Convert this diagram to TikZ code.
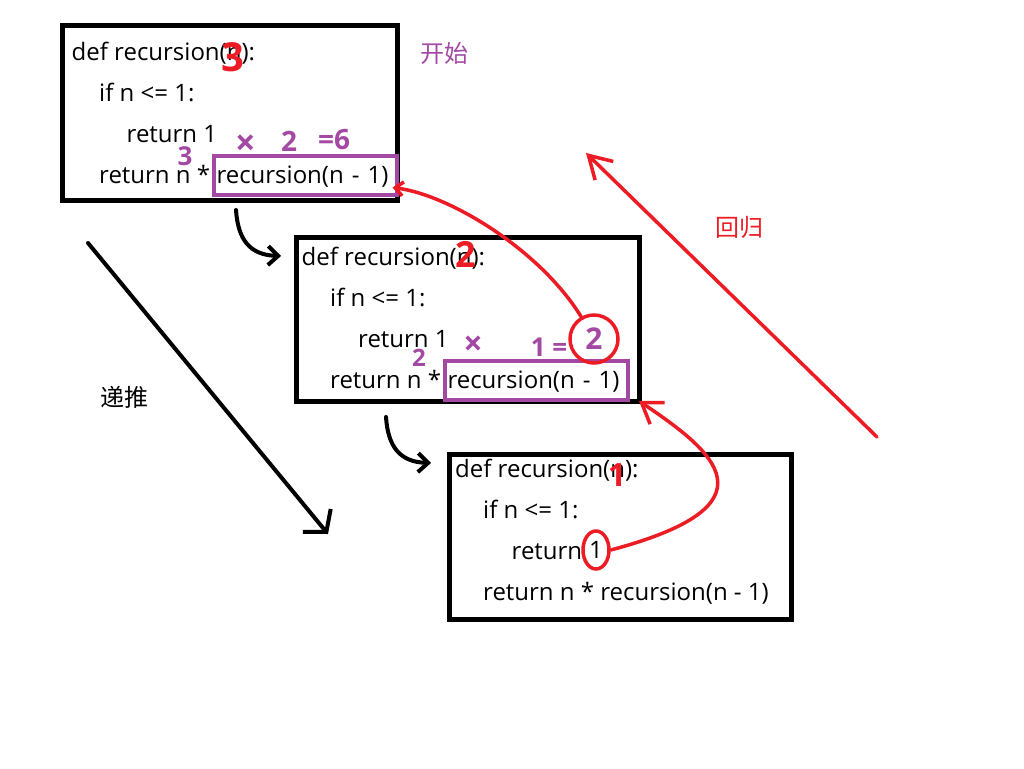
\documentclass[tikz,border=0pt]{standalone}
\usepackage{fontspec}
\setmainfont{Open Sans}
\newfontfamily\cjk{Noto Sans CJK SC}
\usetikzlibrary{arrows.meta,shapes.geometric}

\definecolor{paintred}{HTML}{ED1C24}
\definecolor{paintpurple}{HTML}{A349A4}

\newcommand{\codesize}{\fontsize{24}{28}\selectfont}

\tikzset{
    codebox/.style={draw, line width=5pt, inner sep=0pt, outer sep=0pt, anchor=north west},
    code/.style={anchor=base west, inner sep=0pt, font=\codesize},
    call/.style={draw=paintpurple, line width=4pt, anchor=base west, outer sep=0pt,
        inner xsep=3pt, inner ysep=6pt, text height=21pt, text depth=6pt,
        text width=177pt, align=left, font=\codesize},
    redmark/.style={text=paintred, inner sep=0pt, font=\bfseries\fontsize{#1}{#1}\selectfont},
    purplemark/.style={text=paintpurple, inner sep=0pt, font=\bfseries\fontsize{#1}{#1}\selectfont},
    hanzi/.style={inner sep=0pt, font=\cjk\fontsize{24}{24}\selectfont},
    pushline/.style={draw=black, line width=4pt, line cap=round},
    backline/.style={draw=paintred, line width=3.5pt, line cap=round}
    }

\begin{document}
\begin{tikzpicture}[x=1pt, y=-1pt]
    \useasboundingbox (0,0) rectangle (1024,768);
    % The boxes
    \node[codebox, minimum width=335pt, minimum height=174pt] (box1) at (62.5,26) {};
    \node[codebox, minimum width=343pt, minimum height=164pt] (box2) at (296,237) {};
    \node[codebox, minimum width=342pt, minimum height=165pt] (box3) at (449,454) {};

    % The code
    \node[code] (d1) at (71.5,60) {def recursion(n):};
    \node[code] (i1) at (99,101) {if n <= 1:};
    \node[code] (r1) at (126.5,142) {return 1};
    \node[code] (m1) at (99,183) {return n *};
    \node[call] (c1) at (213.5,183) {recursion(n - 1)};

    \node[code] (d2) at (301.5,265) {def recursion(n):};
    \node[code] (i2) at (330,306) {if n <= 1:};
    \node[code] (r2) at (358,347) {return 1};
    \node[code] (m2) at (330,388) {return n *};
    \node[call] (c2) at (444.5,388) {recursion(n - 1)};

    \node[code] (d3) at (455,477) {def recursion(n):};
    \node[code] (i3) at (483,518) {if n <= 1:};
    \node[code] (r3) at (511.5,559) {return};
    \node[code, ellipse, draw=paintred, line width=3.5pt, minimum width=26pt,
        minimum height=38pt, anchor=center] (one) at (596,550) {1};
    \node[code] (m3) at (483,600) {return n * recursion(n - 1)};

    % The values
    \node[redmark=40] (n1) at (233,57) {3};
    \node[redmark=36] (n2) at (466,254) {2};
    \node[redmark=32] (n3) at (617,475) {1};

    \node[purplemark=26] (f1) at (185,156) {3};
    \node[purplemark=36] (x1) at (246,145) {×};
    \node[purplemark=28] (t1) at (289,141) {2};
    \node[purplemark=28] (e1) at (334,140) {=6};
    \node[purplemark=24] (f2) at (419,358) {2};
    \node[purplemark=34] (x2) at (473,346) {×};
    \node[purplemark=26] (e2) at (549,347) {1 =};
    \node[purplemark=30, circle, draw=paintred, line width=3.5pt, minimum size=48pt] (two) at (594,339) {2};

    \node[hanzi, text=paintpurple] (start) at (444,53) {开始};
    \node[hanzi, text=paintred] (back) at (739,227) {回归};
    \node[hanzi] (push) at (124,397) {递推};

    % Going down
    \coordinate (down1) at (88,243);
    \coordinate (down2) at (328,534);
    \draw[pushline, -{Straight Barb[length=15pt,width=36pt]}] (down1) -- (down2);
    \coordinate (call1) at (236,210);
    \coordinate (call2) at (281,256);
    \draw[pushline, -{Straight Barb[length=10pt,width=19pt]}] (call1) .. controls (238,240) and (250,255) .. (call2);
    \coordinate (call3) at (386,417);
    \coordinate (call4) at (431,463);
    \draw[pushline, -{Straight Barb[length=10pt,width=19pt]}] (call3) .. controls (388,447) and (400,462) .. (call4);

    % Coming back
    \coordinate (up1) at (877,437);
    \coordinate (up2) at (586,153);
    \draw[backline, -{Straight Barb[length=22pt,width=26pt]}] (up1) -- (up2);
    \draw[backline, -{Straight Barb[length=8pt,width=14pt]}] (two.120) .. controls (540,250) and (450,195) .. ([shift={(-4,12)}]c1.east);
    \draw[backline, -{Straight Barb[length=19pt,width=26pt]}] (one.east) .. controls (780,505) and (715,452) .. (box2.south east);
\end{tikzpicture}
\end{document}
